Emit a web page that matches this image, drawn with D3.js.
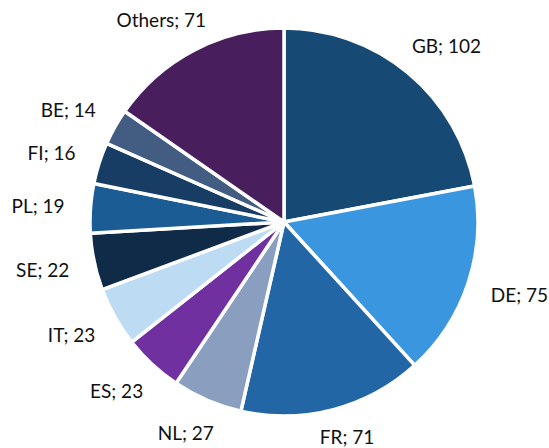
<!DOCTYPE html>
<html>
<head>
<meta charset="UTF-8" />
<script src="https://d3js.org/d3.v7.min.js"></script>
<style>
  body { margin: 0; background: #fff; }
  text { font-family: Lato, "Open Sans", sans-serif; font-size: 19px; fill: #111; }
</style>
</head>
<body>
<div id="chart"></div>
<script>
  // data, clockwise from 12 o'clock
  const countries = ['GB', 'DE', 'FR', 'NL', 'ES', 'IT', 'SE', 'PL', 'FI', 'BE', 'Others']
  const counts = [102, 75, 71, 27, 23, 23, 22, 19, 16, 14, 71]
  const colors = ['#164a75', '#3a96de', '#2366a6', '#8a9ec0', '#7030a0', '#bddcf4',
                  '#0f2b48', '#1b5c94', '#173d64', '#425c82', '#481e5c']

  const width = 549, height = 448
  const cx = 284, cy = 222, radius = 194

  const svg = d3.select('#chart').append('svg')
    .attr('width', width)
    .attr('height', height)

  const g = svg.append('g').attr('transform', `translate(${cx}, ${cy})`)

  const table = countries.map((c, i) => ({ name: c, value: counts[i], color: colors[i] }))

  const pie = d3.pie().value(d => d.value).sort(null)
  const arc = d3.arc().innerRadius(0).outerRadius(radius)
  const arcs = pie(table)

  g.selectAll('path')
    .data(arcs)
    .join('path')
    .attr('d', arc)
    .attr('fill', d => d.data.color)
    .attr('stroke', '#fff')
    .attr('stroke-width', 3.5)
    .attr('stroke-linejoin', 'round')

  // labels: anchor point just outside the rim, box pushed outward
  const labelR = radius + 26
  const labels = g.selectAll('text.lbl')
    .data(arcs)
    .join('text')
    .attr('class', 'lbl')
    .attr('text-anchor', 'middle')
    .attr('dominant-baseline', 'central')
    .text(d => d.data.name + '; ' + d.data.value)

  labels.each(function (d) {
    const a = (d.startAngle + d.endAngle) / 2
    const w = this.getComputedTextLength()
    const h = 18
    let px = Math.sin(a) * labelR + Math.sin(a) * w / 2
    let py = -Math.cos(a) * labelR - Math.cos(a) * h / 2
    // keep inside the svg
    px = Math.min(px, width - cx - 1 - w / 2)
    px = Math.max(px, -cx + 1 + w / 2)
    py = Math.min(py, height - cy - 12)
    d3.select(this).attr('x', px).attr('y', py)
  })
</script>
</body>
</html>
